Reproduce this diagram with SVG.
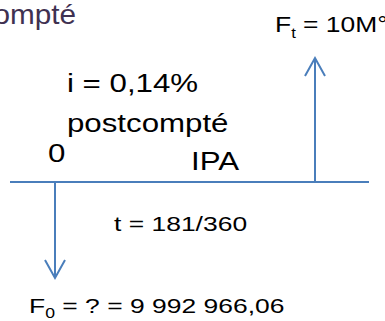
<svg xmlns="http://www.w3.org/2000/svg" width="385" height="321" viewBox="0 0 385 321">
<style>
  text { font-family: "Liberation Sans", Arial, sans-serif; font-size: 25px; fill: #000; }
  .title { fill: #3F3151; font-size: 27px; }
  .sm { font-size: 21px; }
  .ft { font-size: 22px; }
  .ln { stroke: #4A7EBB; stroke-width: 2; fill: none; }
  .sub { font-size: 14px; }
</style>
<rect width="385" height="321" fill="#fff"/>
<g id="title"><text class="title" transform="translate(76,24) scale(1.1,1)" text-anchor="end">ompté</text></g>
<g id="connectors">
  <line class="ln" x1="10" y1="182" x2="369" y2="182"/>
  <path class="ln" d="M55,182 V278 M45,260 L55,278 L65,260"/>
  <path class="ln" d="M315,182 V58 M305,76 L315,58 L325,76"/>
</g>
<g id="Ft"><text class="ft" transform="translate(275,32) scale(1.2,1)">F<tspan class="sub" dy="6">t</tspan><tspan dy="-6"> = 10M°</tspan></text></g>
<g id="rate"><text transform="translate(67,92) scale(1.25,1)">i = 0,14%</text>
<text transform="translate(67,132) scale(1.25,1)">postcompté</text></g>
<g id="zero"><text transform="translate(48,162) scale(1.25,1)">0</text></g>
<g id="ipa"><text transform="translate(191,170) scale(1.25,1)">IPA</text></g>
<g id="time"><text class="sm" transform="translate(114,231) scale(1.26,1)">t = 181/360</text></g>
<g id="F0"><text class="sm" transform="translate(29,313) scale(1.26,1)">F<tspan class="sub" dy="5">0</tspan><tspan dy="-5"> = ? = 9 992 966,06</tspan></text></g>
</svg>
